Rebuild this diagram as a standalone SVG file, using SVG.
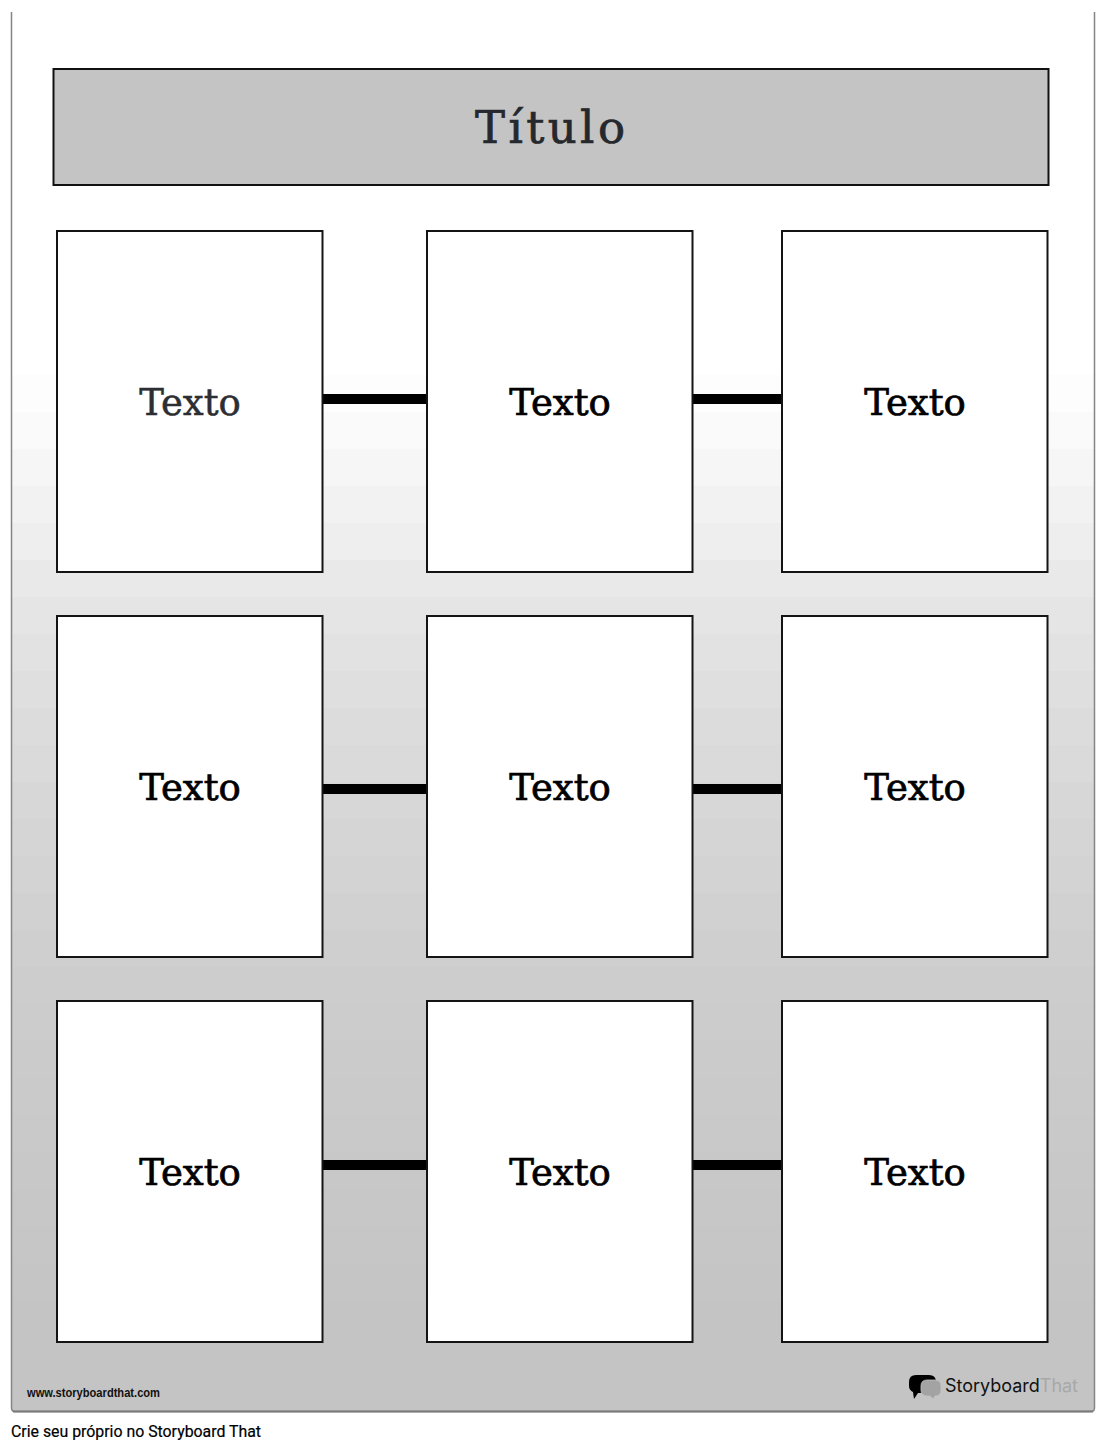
<svg xmlns="http://www.w3.org/2000/svg" width="1107" height="1450" viewBox="0 0 1107 1450">
<style>
.box{fill:#fff;stroke:#141414;stroke-width:2}
.lbl{font-family:"DejaVu Serif",serif;font-size:37px;text-anchor:middle;fill:#000;stroke:#000;stroke-width:.7px}
.link{fill:#000}
</style>
<rect width="1107" height="1450" fill="#fff"/>
<g id="page">
<rect x="12" y="375" width="1082" height="37" fill="#fdfdfd"/>
<rect x="12" y="412" width="1082" height="37" fill="#fafafa"/>
<rect x="12" y="449" width="1082" height="37" fill="#f6f6f6"/>
<rect x="12" y="486" width="1082" height="37" fill="#f2f2f2"/>
<rect x="12" y="523" width="1082" height="37" fill="#eeeeee"/>
<rect x="12" y="560" width="1082" height="37" fill="#e9e9e9"/>
<rect x="12" y="597" width="1082" height="37" fill="#e5e5e5"/>
<rect x="12" y="634" width="1082" height="37" fill="#e2e2e2"/>
<rect x="12" y="671" width="1082" height="37" fill="#dfdfdf"/>
<rect x="12" y="708" width="1082" height="37" fill="#dcdcdc"/>
<rect x="12" y="745" width="1082" height="37" fill="#dadada"/>
<rect x="12" y="782" width="1082" height="37" fill="#d7d7d7"/>
<rect x="12" y="819" width="1082" height="37" fill="#d5d5d5"/>
<rect x="12" y="856" width="1082" height="37" fill="#d3d3d3"/>
<rect x="12" y="893" width="1082" height="37" fill="#d1d1d1"/>
<rect x="12" y="930" width="1082" height="37" fill="#cfcfcf"/>
<rect x="12" y="967" width="1082" height="37" fill="#cdcdcd"/>
<rect x="12" y="1004" width="1082" height="37" fill="#cccccc"/>
<rect x="12" y="1041" width="1082" height="37" fill="#cbcbcb"/>
<rect x="12" y="1078" width="1082" height="37" fill="#cacaca"/>
<rect x="12" y="1115" width="1082" height="37" fill="#c9c9c9"/>
<rect x="12" y="1152" width="1082" height="37" fill="#c8c8c8"/>
<rect x="12" y="1189" width="1082" height="37" fill="#c7c7c7"/>
<rect x="12" y="1226" width="1082" height="37" fill="#c6c6c6"/>
<rect x="12" y="1263" width="1082" height="37" fill="#c5c5c5"/>
<rect x="12" y="1300" width="1082" height="111" fill="#c4c4c4"/>
<path d="M11.500 12V1408Q11.500 1411.500 15 1411.500H1091Q1094.500 1411.500 1094.500 1408V12" fill="none" stroke="#858585" stroke-width="1.500"/>
<path d="M13 1411.500H1093" fill="none" stroke="#7a7a7a" stroke-width="2"/>
</g>
<g id="title">
<rect x="53.500" y="69" width="995" height="116" fill="#c4c4c4" stroke="#111" stroke-width="2"/>
<text x="550" y="143" font-family="DejaVu Serif, serif" font-size="45" text-anchor="middle" textLength="150" lengthAdjust="spacing" fill="#25282d" stroke="#25282d" stroke-width=".7">Título</text>
</g>
<g id="connectors">
<rect class="link" x="322" y="394" width="105" height="10"/>
<rect class="link" x="692" y="394" width="90" height="10"/>
<rect class="link" x="322" y="784" width="105" height="10"/>
<rect class="link" x="692" y="784" width="90" height="10"/>
<rect class="link" x="322" y="1160" width="105" height="10"/>
<rect class="link" x="692" y="1160" width="90" height="10"/>
</g>
<g id="n1"><rect class="box" x="57" y="231" width="265.500" height="341"/><text class="lbl" x="190" y="415" style="fill:#2b2e33;stroke:#2b2e33;stroke-width:.5px">Texto</text></g>
<g id="n2"><rect class="box" x="427" y="231" width="265.500" height="341"/><text class="lbl" x="560" y="415">Texto</text></g>
<g id="n3"><rect class="box" x="782" y="231" width="265.500" height="341"/><text class="lbl" x="915" y="415">Texto</text></g>
<g id="n4"><rect class="box" x="57" y="616" width="265.500" height="341"/><text class="lbl" x="190" y="800">Texto</text></g>
<g id="n5"><rect class="box" x="427" y="616" width="265.500" height="341"/><text class="lbl" x="560" y="800">Texto</text></g>
<g id="n6"><rect class="box" x="782" y="616" width="265.500" height="341"/><text class="lbl" x="915" y="800">Texto</text></g>
<g id="n7"><rect class="box" x="57" y="1001" width="265.500" height="341"/><text class="lbl" x="190" y="1185">Texto</text></g>
<g id="n8"><rect class="box" x="427" y="1001" width="265.500" height="341"/><text class="lbl" x="560" y="1185">Texto</text></g>
<g id="n9"><rect class="box" x="782" y="1001" width="265.500" height="341"/><text class="lbl" x="915" y="1185">Texto</text></g>
<g id="footer">
<text x="27" y="1397" font-family="Liberation Sans, sans-serif" font-size="13" font-weight="700" textLength="133" lengthAdjust="spacingAndGlyphs" fill="#111">www.storyboardthat.com</text>
<path d="M916 1375H929Q936 1375 936 1382V1386Q936 1393 929 1393H918L914 1399L913 1392Q909 1390 909 1386V1382Q909 1375 916 1375Z" fill="#000"/>
<path d="M927 1380H935Q941 1380 941 1386V1390Q941 1396 935 1396L933 1399L930 1396H927Q921 1396 921 1390V1386Q921 1380 927 1380Z" fill="#a3a3a3" stroke="#c4c4c4" stroke-width=".8"/>
<text x="945" y="1392" font-family="Inter, sans-serif" font-size="18" textLength="133" lengthAdjust="spacingAndGlyphs" fill="#111">Storyboard<tspan fill="#a8a8a8">That</tspan></text>
<text x="11" y="1437" font-family="Roboto, sans-serif" font-size="16" textLength="250" lengthAdjust="spacingAndGlyphs" fill="#000" stroke="#000" stroke-width=".2">Crie seu próprio no Storyboard That</text>
</g>
</svg>
